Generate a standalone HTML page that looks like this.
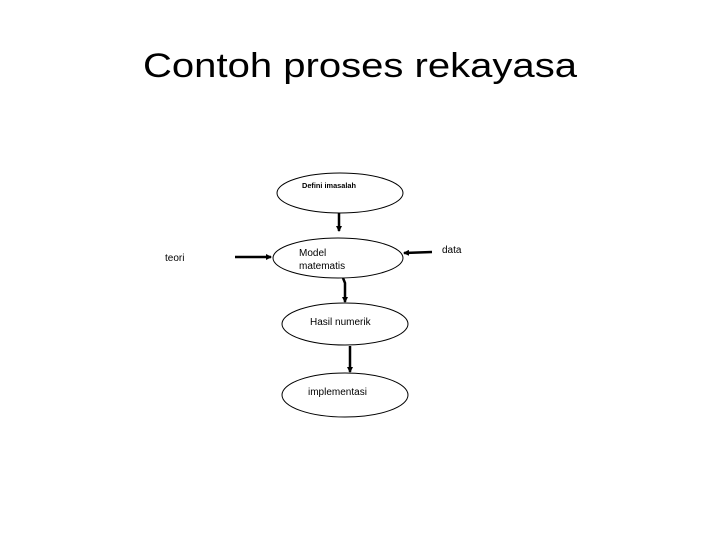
<!DOCTYPE html>
<html><head><meta charset="utf-8"><style>
html,body{margin:0;padding:0;background:#fff;}
svg{display:block;}
text{font-family:"Liberation Sans",sans-serif;fill:#000;}
</style></head><body>
<svg width="720" height="540" viewBox="0 0 720 540" xmlns="http://www.w3.org/2000/svg">
<defs><marker id="a" markerWidth="6" markerHeight="6" refX="5" refY="3" orient="auto" markerUnits="userSpaceOnUse"><path d="M0,0 L6,3 L0,6 z" fill="#000"/></marker></defs>
<text x="143" y="77" font-size="34" textLength="434" lengthAdjust="spacingAndGlyphs">Contoh proses  rekayasa</text>
<g fill="none" stroke="#000" stroke-width="1">
<ellipse cx="340" cy="193" rx="63" ry="20"/>
<ellipse cx="338" cy="258" rx="65" ry="20"/>
<ellipse cx="345" cy="324" rx="63" ry="21"/>
<ellipse cx="345" cy="395" rx="63" ry="22"/>
</g>
<g stroke="#000" stroke-width="2.5" fill="none" marker-end="url(#a)">
<line x1="339" y1="213" x2="339" y2="231"/>
<line x1="235" y1="257" x2="271" y2="257"/>
<line x1="432" y1="252" x2="404" y2="253"/>
<polyline points="343,278 345,283 345,302"/>
<line x1="350" y1="346" x2="350" y2="372"/>
</g>
<text x="302" y="188" font-size="7" font-weight="bold" textLength="54" lengthAdjust="spacingAndGlyphs">Defini imasalah</text>
<text x="299" y="256" font-size="10">Model</text>
<text x="299" y="269" font-size="10">matematis</text>
<text x="310" y="325" font-size="10">Hasil numerik</text>
<text x="308" y="395" font-size="10">implementasi</text>
<text x="165" y="261" font-size="10">teori</text>
<text x="442" y="253" font-size="10">data</text>
</svg>
</body></html>
